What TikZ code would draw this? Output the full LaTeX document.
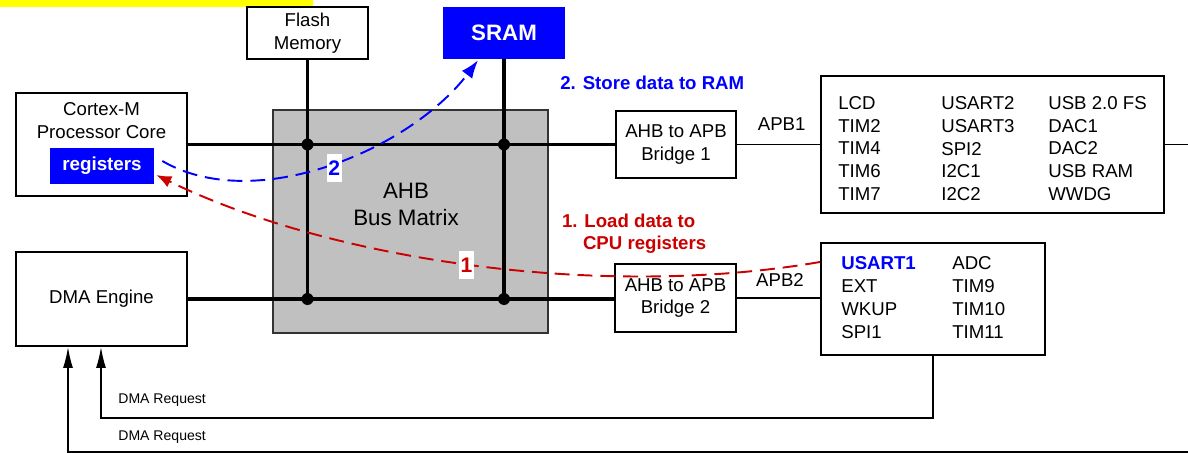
\documentclass[tikz,border=0pt]{standalone}
\usepackage{fontspec}
\setmainfont{Liberation Sans}
\usetikzlibrary{arrows.meta,calc}
\definecolor{myred}{RGB}{204,0,0}
\definecolor{myblue}{RGB}{0,0,255}
\definecolor{mgray}{RGB}{192,192,192}
\definecolor{myyellow}{RGB}{255,255,0}
\begin{document}
\begin{tikzpicture}[x=0.02cm,y=-0.02cm,
  box/.style={draw=black, line width=1.15pt, fill=white, inner sep=0pt, align=center, font=\fontsize{10.6}{13}\selectfont},
  bluebox/.style={fill=myblue, inner sep=0pt, text=white, font=\bfseries\fontsize{10.7}{13}\selectfont},
  txt/.style={inner sep=0pt, align=center, font=\fontsize{10.6}{13}\selectfont},
  plist/.style={inner sep=0pt, align=left, anchor=north west, font=\fontsize{10.6}{12.9}\selectfont},
  bus/.style={line width=2pt},
  thinline/.style={line width=0.85pt},
  jdot/.style={circle, fill=black, inner sep=0pt, minimum size=0.24cm},
  flowred/.style={myred, line width=1.1pt, dash pattern=on 8.5pt off 4.5pt, -{Latex[length=0.3cm,width=0.24cm]}},
  flowblue/.style={myblue, line width=1.1pt, dash pattern=on 8.5pt off 4.5pt, -{Latex[length=0.36cm,width=0.26cm]}},
  steplabel/.style={fill=white, inner xsep=1pt, inner ysep=0pt, minimum height=0.56cm, font=\bfseries\fontsize{12}{14}\selectfont},
  reqarrow/.style={thinline, -{Latex[length=0.42cm,width=0.2cm]}},
  smalltxt/.style={inner sep=0pt, anchor=west, font=\fontsize{8}{10}\selectfont}
]
\useasboundingbox (0,0) rectangle (1188,453);
\clip (0,0) rectangle (1188,453);

% top yellow strip
\fill[myyellow] (0,0) rectangle (313,7);

% bus matrix
\node[draw=black!80, line width=0.9pt, fill=mgray, minimum width=5.5cm, minimum height=4.46cm, inner sep=0pt] (matrix) at (410.5,221.5) {};
\node[txt, font=\fontsize{12.7}{15.3}\selectfont] (ahbtext) at (406,204) {AHB\\Bus Matrix};

% boxes
\node[box, minimum width=2.42cm, minimum height=1.04cm] (flash) at (307.5,33) {Flash\\Memory};
\node[bluebox, minimum width=2.44cm, minimum height=1.04cm, font=\bfseries\fontsize{12.7}{15}\selectfont] (sram) at (504,33) {SRAM};
\node[box, minimum width=3.42cm, minimum height=2.06cm] (cortex) at (101.5,144.5) {};
\node[txt] (cortextext) at (101.5,121) {Cortex-M\\Processor Core};
\node[bluebox, minimum width=2.08cm, minimum height=0.72cm] (regs) at (102,166) {registers};
\node[box, minimum width=3.42cm, minimum height=1.88cm] (dma) at (101.5,299) {DMA Engine};
\node[box, minimum width=2.4cm, minimum height=1.34cm] (br1) at (676,144.5) {AHB to APB\\Bridge 1};
\node[box, minimum width=2.42cm, minimum height=1.36cm] (br2) at (675.5,298) {AHB to APB\\Bridge 2};
\node[box, minimum width=6.86cm, minimum height=2.74cm] (p1) at (992.5,144.5) {};
\node[box, minimum width=4.48cm, minimum height=2.24cm] (p2) at (933,299) {};

% peripheral lists
\node[plist] (p1a) at (838,96) {LCD\\TIM2\\TIM4\\TIM6\\TIM7};
\node[plist] (p1b) at (941,96.5) {USART2\\USART3\\SPI2\\I2C1\\I2C2};
\node[plist] (p1c) at (1048,96) {USB 2.0 FS\\DAC1\\DAC2\\USB RAM\\WWDG};
\node[plist, font=\fontsize{10.6}{13.1}\selectfont] (p2a) at (841,256.5) {\textcolor{myblue}{\textbf{USART1}}\\EXT\\WKUP\\SPI1};
\node[plist, font=\fontsize{10.6}{13.1}\selectfont] (p2b) at (952,256.5) {ADC\\TIM9\\TIM10\\TIM11};

% junctions
\coordinate (j1) at (flash.south |- cortex.east);
\coordinate (j2) at (sram.south |- cortex.east);
\coordinate (j3) at (flash.south |- dma.east);
\coordinate (j4) at (sram.south |- dma.east);

% buses
\draw[bus] (cortex.east) -- (br1.west);
\draw[bus] (dma.east) -- (dma.east -| br2.west);
\draw[bus] (flash.south) -- (j1) -- (j3);
\draw[bus] (sram.south) -- (j2) -- (j4);
\foreach \j in {j1,j2,j3,j4} \node[jdot] at (\j) {};

% APB links
\draw[thinline] (br1.east) -- (p1.west);
\draw[thinline] (br2.east) -- (br2.east -| p2.west);
\node[txt] (apb1) at (781.7,124.3) {APB1};
\node[txt] (apb2) at (780,280) {APB2};

% DMA requests
\coordinate (rq1) at (1200,144.5);
\coordinate (rq2) at (1200,452);
\coordinate (rq3) at (68,452);
\draw[reqarrow] (p1.east) -- (rq1) -- (rq2) -- (rq3) -- (rq3 |- dma.south);
\coordinate (rq4) at (p2.south |- 0,418);
\coordinate (rq5) at (101,418);
\draw[reqarrow] (p2.south) -- (rq4) -- (rq5) -- (rq5 |- dma.south);
\node[smalltxt] (req1) at (118,400) {DMA Request};
\node[smalltxt] (req2) at (118,437) {DMA Request};

% data flows
\coordinate (rstart) at ($(p2.north west)+(0,20)$);
\coordinate (rend) at ($(regs.east)+(2,9)$);
\draw[flowred] (rstart) .. controls (600,300) and (330,260) .. (rend);
\coordinate (bstart) at ($(regs.east)+(8,-5)$);
\coordinate (bend) at ($(sram.south)+(-26,1)$);
\draw[flowblue] (bstart) .. controls (255,215) and (410,150) .. (bend);
\node[steplabel, text=myred] (lab1) at (466.5,265) {1};
\node[steplabel, text=myblue] (lab2) at (334.3,168) {2};

\node[inner sep=0pt, anchor=west, text=myblue, font=\bfseries\fontsize{10.6}{13}\selectfont] (store) at (560,82.7) {2. Store data to RAM};
\node[inner sep=0pt, anchor=north west, align=left, text=myred, font=\bfseries\fontsize{10.6}{12.3}\selectfont] (load) at (561.7,214) {1. Load data to\\\hspace*{0.42cm}CPU registers};
\end{tikzpicture}
\end{document}
